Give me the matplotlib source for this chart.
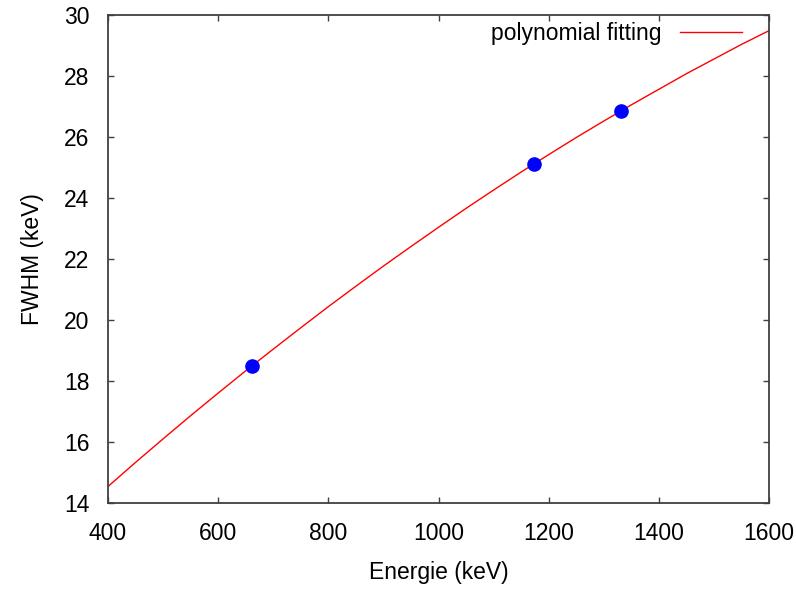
import matplotlib
matplotlib.use("Agg")
import matplotlib.pyplot as plt

plt.rcParams['font.family'] = ['Liberation Sans', 'DejaVu Sans']

# Measured points
energy_pts = [662, 1173, 1332]
fwhm_pts = [18.5, 25.1, 26.85]

# Polynomial fitting curve
fit_energy = [400, 450, 500, 550, 600, 650, 700, 750, 800, 850, 900, 950, 1000,
              1050, 1100, 1150, 1200, 1250, 1300, 1350, 1400, 1450, 1500, 1550, 1600]
fit_fwhm = [14.54, 15.33, 16.10, 16.86, 17.60, 18.33, 19.04, 19.74, 20.43, 21.10,
            21.76, 22.40, 23.03, 23.65, 24.25, 24.84, 25.41, 25.97, 26.51, 27.04,
            27.55, 28.06, 28.54, 29.02, 29.47]

x_ticks = [400, 600, 800, 1000, 1200, 1400, 1600]
y_ticks = [14, 16, 18, 20, 22, 24, 26, 28, 30]

fs = 16.5
fig = plt.figure(figsize=(7.96, 5.90), dpi=100)
ax = fig.add_axes([108/796, 87/590, (769-108)/796, (503-14.5)/590])

ax.plot(fit_energy, fit_fwhm, color='#ff0000', lw=1.0, label='polynomial fitting', zorder=2)
ax.plot(energy_pts, fwhm_pts, 'o', color='#0000ff', markersize=9.5, zorder=3)

ax.set_xlim(400, 1600)
ax.set_ylim(14, 30)
ax.set_xticks(x_ticks)
ax.set_yticks(y_ticks)
ax.tick_params(direction='in', top=True, right=True, length=4, width=1, color='#404040',
               labelsize=fs, pad=13.5)
for s in ax.spines.values():
    s.set_color('#404040')
    s.set_linewidth(1.3)

ax.set_xlabel('Energie (keV)', fontsize=fs, labelpad=12)
ax.set_ylabel('FWHM (keV)', fontsize=fs, labelpad=14)

leg = ax.legend(loc='upper right', bbox_to_anchor=((742-108)/661, 1 - (22-14.5)/488.5),
                frameon=False, markerfirst=False, fontsize=fs,
                handlelength=2.7, handletextpad=0.8, borderaxespad=0, borderpad=0)

fig.savefig('out.png', dpi=100)
